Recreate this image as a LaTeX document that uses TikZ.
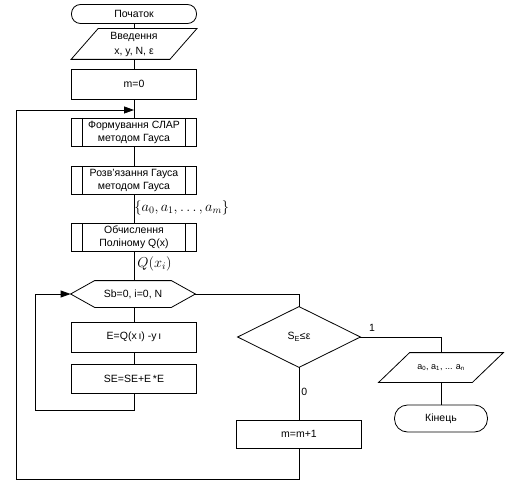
\documentclass[tikz,border=0pt]{standalone}
\usepackage{fontspec}
\setmainfont{Liberation Sans}
\usetikzlibrary{arrows.meta,calc}
\begin{document}
\begin{tikzpicture}[x=1pt,y=-1pt,line width=0.8pt,
  every node/.style={font=\fontsize{10.5}{13}\selectfont,inner sep=0pt,align=center},
  box/.style={draw,minimum width=125pt,minimum height=#1},
  box/.default=30pt,
  proc/.style={box=28pt,path picture={
     \draw ([xshift=11pt]path picture bounding box.north west) -- ([xshift=11pt]path picture bounding box.south west);
     \draw ([xshift=-11pt]path picture bounding box.north east) -- ([xshift=-11pt]path picture bounding box.south east);}},
  term/.style={draw,rounded corners=#1},
  shell/.style={minimum width=#1},
  lbl/.style={anchor=west},
  mlbl/.style={anchor=west,font=\fontsize{14}{17}\selectfont},
  arr/.style={-{Triangle[length=10pt,width=7pt]}}
]
\useasboundingbox (0,0) rectangle (505,481);

% left column
\node[term=9pt,minimum width=125pt,minimum height=19pt] (start) at (134,14) {Початок};
\node[shell=125pt,minimum height=30pt,font=\fontsize{10.5}{15}\selectfont] (in) at (134,44) {Введення\\x, y, N, ε};
\draw ($(in.north west)+(27,0)$) -- (in.north east) -- ($(in.south east)+(-27,0)$) -- (in.south west) -- cycle;
\node[box] (m0) at (134,84) {m=0};
\node[proc] (form) at (134,132) {Формування СЛАР\\методом Гауса};
\node[proc] (solve) at (134,180) {Розв'язання Гауса\\методом Гауса};
\node[mlbl] (alab) at (134,208) {$\{a_0, a_1,\ldots, a_m\}$};
\node[proc] (calc) at (134,237) {Обчислення\\Поліному Q(x)};
\node[mlbl] (qlab) at (137,264) {$Q(x_i)$};
\node[shell=124pt,minimum height=26pt] (hex) at (133,294) {Sb=0, i=0, N};
\draw (hex.west) -- ($(hex.north west)+(24,0)$) -- ($(hex.north east)+(-24,0)$) -- (hex.east)
      -- ($(hex.south east)+(-24,0)$) -- ($(hex.south west)+(24,0)$) -- cycle;
\node[box] (E) at (134,337) {E=Q(x\,ı) -y\,ı};
\node[box=29pt] (SE) at (134,378.5) {SE=SE+E\,*E};

% right part
\node[shell=122pt,minimum height=60pt] (dia) at (299,337) {S\textsubscript{E}≤ε};
\draw (dia.north) -- (dia.east) -- (dia.south) -- (dia.west) -- cycle;
\node (one) at (372,328) {1};
\node[lbl] (zero) at (301,392) {0};
\node[shell=124pt,minimum height=29pt,font=\fontsize{9}{11}\selectfont] (out) at (441,367.5) {a\textsubscript{0}, a\textsubscript{1}, ... a\textsubscript{n}};
\draw ($(out.north west)+(31,0)$) -- (out.north east) -- ($(out.south east)+(-31,0)$) -- (out.south west) -- cycle;
\node[term=13pt,minimum width=93pt,minimum height=27pt] (end) at (441,418.5) {Кінець};
\node[box=28pt] (mm1) at (299,434) {m=m+1};

% coordinates
\coordinate (join) at (134,110);
\coordinate (c2) at (35,410);
\coordinate (c3) at (16,479);

% connectors
\draw (start) -- (in);
\draw (in) -- (m0);
\draw (m0) -- (form);
\draw (form) -- (solve);
\draw (solve) -- (calc);
\draw (calc.south) -- (calc.south |- hex.north);
\draw (E.north |- hex.south) -- (E.north);
\draw (E) -- (SE);
\draw[arr] (SE.south) |- (c2) |- (hex.west);
\draw (hex.east) -| (dia.north);
\draw (dia.east) -| (out.north);
\draw (out) -- (end);
\draw (dia.south) -- (mm1.north);
\draw[arr] (mm1.south) |- (c3) |- (join);
\end{tikzpicture}
\end{document}
